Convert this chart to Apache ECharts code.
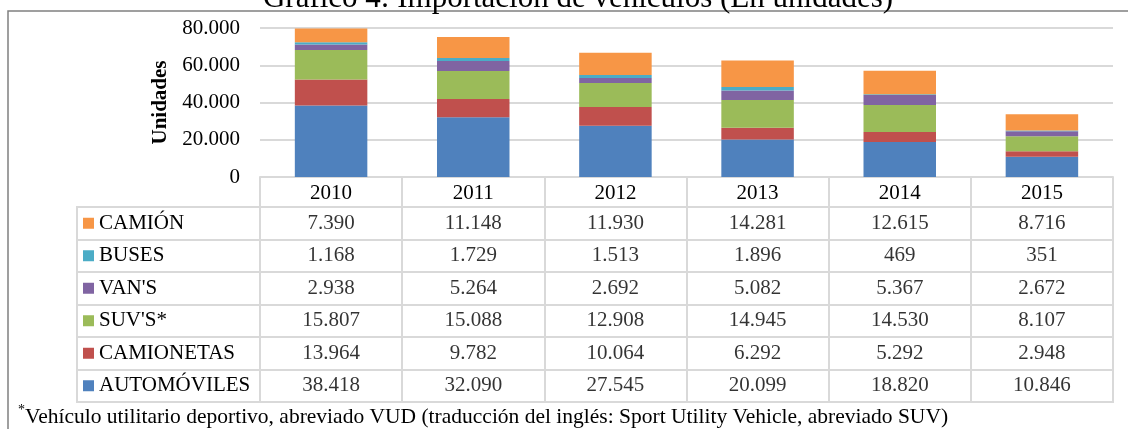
<!DOCTYPE html>
<html><head><meta charset="utf-8">
<script src="https://cdn.jsdelivr.net/npm/echarts@6/dist/echarts.min.js"></script>
<style>html,body{margin:0;padding:0;background:#fff}#c{width:1128px;height:429px}</style>
</head><body><div id="c"></div>
<script>
const years = ['2010','2011','2012','2013','2014','2015'];
const seriesNames = ['AUTOMÓVILES','CAMIONETAS',"SUV'S*","VAN'S",'BUSES','CAMIÓN'];
const automoviles = [38418,32090,27545,20099,18820,10846];
const camionetas = [13964,9782,10064,6292,5292,2948];
const suvs = [15807,15088,12908,14945,14530,8107];
const vans = [2938,5264,2692,5082,5367,2672];
const buses = [1168,1729,1513,1896,469,351];
const camion = [7390,11148,11930,14281,12615,8716];
const yTicks = [0,20000,40000,60000,80000];
const titleText = 'Gráfico 4: Importación de vehículos (En unidades)';
const footText = 'Vehículo utilitario deportivo, abreviado VUD (traducción del inglés: Sport Utility Vehicle, abreviado SUV)';

const values = [automoviles,camionetas,suvs,vans,buses,camion];
const colors = ['#4F81BD','#C0504D','#9BBB59','#8064A2','#4BACC6','#F79646'];
const FONT = '"Liberation Serif", "Times New Roman", serif';
const LINE = '#d9d9d9';
const FS = 21;
const fmt = n => String(n).replace(/\B(?=(\d{3})+(?!\d))/g, '.');

const rich = {t:{fontFamily:FONT,fontSize:FS,color:'#000',padding:[0,0,0,5]}};
colors.forEach((c,i)=>{rich['s'+i]={backgroundColor:c,width:11,height:11};});

const cells = [];
seriesNames.forEach((nm,si)=>{years.forEach((y,yi)=>{cells.push([y,nm,values[si][yi]]);});});

const chart = echarts.init(document.getElementById('c'));
chart.setOption({
  animation:false,
  grid:[
    {left:260,right:15,top:28,bottom:252},
    {left:260,right:15,top:207,height:195,show:true,borderColor:LINE,borderWidth:2},
    {left:77,width:183,top:207,height:195,show:true,borderColor:LINE,borderWidth:2}
  ],
  xAxis:[
    {gridIndex:0,type:'category',data:years,
      axisLine:{lineStyle:{color:LINE,width:2}},
      axisTick:{show:true,length:30,lineStyle:{color:LINE,width:2}},
      axisLabel:{color:'#000',fontFamily:FONT,fontSize:FS,margin:6}},
    {gridIndex:1,type:'category',data:years,
      axisLine:{show:false},axisTick:{show:false},axisLabel:{show:false},
      splitLine:{show:true,lineStyle:{color:LINE,width:2}}},
    {gridIndex:2,type:'value',show:false,min:0,max:1}
  ],
  yAxis:[
    {gridIndex:0,type:'value',min:yTicks[0],max:yTicks[yTicks.length-1],interval:yTicks[1]-yTicks[0],
      name:'Unidades',nameLocation:'middle',nameRotate:90,nameGap:81,
      nameTextStyle:{fontFamily:FONT,fontSize:FS,fontWeight:'bold',color:'#000'},
      axisLine:{show:false},axisTick:{show:false},
      axisLabel:{color:'#000',fontFamily:FONT,fontSize:FS,margin:20,formatter:v=>fmt(v)},
      splitLine:{lineStyle:{color:LINE,width:2}}},
    {gridIndex:1,type:'category',data:seriesNames,
      axisLine:{show:false},axisTick:{show:false},axisLabel:{show:false},
      splitLine:{show:true,lineStyle:{color:LINE,width:2}}},
    {gridIndex:2,type:'category',data:seriesNames,
      axisLine:{show:false},axisTick:{show:false},
      axisLabel:{inside:true,margin:6,formatter:(v,i)=>'{s'+i+'|}{t|'+v+'}',rich:rich},
      splitLine:{show:true,lineStyle:{color:LINE,width:2}}}
  ],
  series: seriesNames.map((nm,i)=>({
    name:nm,type:'bar',stack:'total',xAxisIndex:0,yAxisIndex:0,barWidth:'51%',
    data:values[i],itemStyle:{color:colors[i]}
  })).concat([{
    type:'scatter',xAxisIndex:1,yAxisIndex:1,symbolSize:0,silent:true,data:cells,
    label:{show:true,position:'inside',formatter:p=>fmt(p.value[2]),color:'#000',fontFamily:FONT,fontSize:FS}
  }]),
  graphic:[
    {type:'rect',shape:{x:8,y:11,width:1130,height:430},style:{fill:'none',stroke:'#808080',lineWidth:1.5},silent:true},
    {type:'text',x:578,y:-1,style:{text:titleText,fontFamily:FONT,fontSize:31,fill:'#000',textAlign:'center',textVerticalAlign:'middle'}},
    {type:'text',x:18,y:417,style:{text:'{sup|*}{f|'+footText+'}',textVerticalAlign:'middle',
      rich:{sup:{fontFamily:FONT,fontSize:14,color:'#000',verticalAlign:'top',padding:[0,0,14,0]},f:{fontFamily:FONT,fontSize:21.5,color:'#000'}}}}
  ]
});
</script></body></html>
